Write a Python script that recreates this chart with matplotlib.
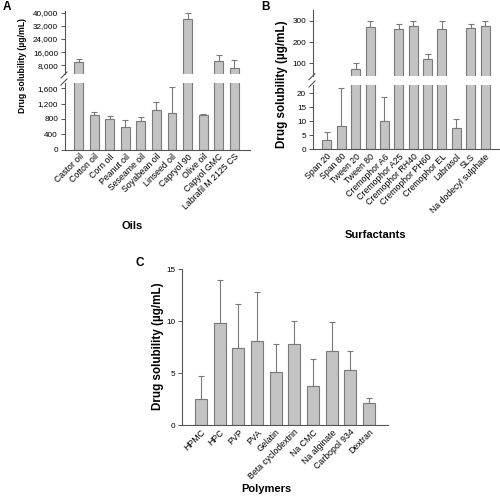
import numpy as np
import matplotlib
matplotlib.use("Agg")
from matplotlib import pyplot as plt
from matplotlib import font_manager
from matplotlib.ticker import StrMethodFormatter
from matplotlib.lines import Line2D

plt.rcParams['font.family'] = ['Liberation Sans', 'DejaVu Sans']
names_installed = {f.name for f in font_manager.fontManager.ttflist}
print(sorted(n for n in names_installed if 'Narrow' in n or 'Condensed' in n))

# panel A: oils
oils = ['Castor oil', 'Cotton oil', 'Corn oil', 'Peanut oil', 'Seseame oil',
        'Soyabean oil', 'Linseed oil', 'Capryol 90', 'Olive oil',
        'Capyol GMC', 'Labrafil M 2125 CS']
oil_mean = [9800, 890, 790, 590, 737, 1040, 962, 36000, 905, 10400, 6200]
oil_sd = [1800, 80, 78, 175, 105, 195, 664, 3600, 35, 3700, 4800]

# panel B: surfactants
surf = ['Span 20', 'Span 80', 'Tween 20', 'Tween 80', 'Cremophor A6',
        'Cremophor A25', 'Cremophor RH40', 'Cremophor PH60', 'Cremophor EL',
        'Labrasol', 'SLS', 'Na dodecyl sulphate']
surf_mean = [3.2, 8.4, 75, 273, 10, 263, 274, 119, 261, 7.7, 266, 274]
surf_sd = [3.0, 13.7, 25, 27, 8.8, 25, 28, 25, 40, 3.3, 20, 24]

# panel C: polymers
poly = ['HPMC', 'HPC', 'PVP', 'PVA', 'Gelatin', 'Beta cyclodextrin',
        'Na CMC', 'Na alginate', 'Carbopol 934', 'Dextran']
poly_mean = [2.49, 9.77, 7.42, 8.06, 5.06, 7.77, 3.74, 7.13, 5.29, 2.1]
poly_sd = [2.18, 4.13, 4.25, 4.71, 2.74, 2.26, 2.58, 2.73, 1.87, 0.48]

W, H = 500, 496
fig = plt.figure(figsize=(5, 4.96), dpi=100)

bar_fc = '#c3c3c3'
bar_ec = '#7a7a7a'
spc = '#555555'
tfs = 5.9


def px_axes(x0, x1, ytop, ybot):
    return fig.add_axes([x0 / W, 1 - ybot / H, (x1 - x0) / W, (ybot - ytop) / H])


def style(ax):
    for s in ['top', 'right']:
        ax.spines[s].set_visible(False)
    for s in ['left', 'bottom']:
        ax.spines[s].set_color(spc)
        ax.spines[s].set_linewidth(0.8)
    ax.tick_params(axis='y', labelsize=tfs, length=3, width=0.7, color=spc, pad=2)
    ax.tick_params(axis='x', length=0, labelsize=6.3, pad=2)


def draw_bars(ax, mean, sd, width):
    x = np.arange(len(mean))
    ax.bar(x, mean, width=width, color=bar_fc, edgecolor=bar_ec, linewidth=0.8, zorder=2)
    ax.errorbar(x, mean, yerr=[np.zeros(len(sd)), sd], fmt='none', ecolor='#7a7a7a',
                elinewidth=0.8, capsize=2.5, capthick=0.8, zorder=1)
    return x


def broken(x0, x1, up, low, width, mean, sd, names, ylim_up, ylim_low, ticks_up, ticks_low, fmt):
    ax_u = px_axes(x0, x1, up[0], up[1])
    ax_l = px_axes(x0, x1, low[0], low[1])
    for ax in (ax_u, ax_l):
        style(ax)
        draw_bars(ax, mean, sd, width)
    ax_u.spines['bottom'].set_visible(False)
    ax_u.set_xticks([])
    ax_u.set_ylim(*ylim_up)
    ax_l.set_ylim(*ylim_low)
    ax_u.set_yticks(ticks_up)
    ax_l.set_yticks(ticks_low)
    if fmt:
        ax_u.yaxis.set_major_formatter(StrMethodFormatter('{x:,.0f}'))
        ax_l.yaxis.set_major_formatter(StrMethodFormatter('{x:,.0f}'))
    ax_l.set_xticks(np.arange(len(names)))
    ax_l.set_xticklabels(names, rotation=45, ha='right', rotation_mode='anchor')
    # break marks
    for yy in (up[1] + 1, low[0] - 1):
        fig.add_artist(Line2D([(x0 - 4) / W, (x0 + 2) / W],
                              [1 - (yy + 3) / H, 1 - (yy - 3) / H],
                              color=spc, lw=0.8))
    return ax_u, ax_l


axA_u, axA_l = broken(65, 250, (11, 74), (83, 149.5), 0.58, oil_mean, oil_sd, oils,
                      (2707, 41034), (0, 1739),
                      [8000, 16000, 24000, 32000, 40000], [0, 400, 800, 1200, 1600], True)
axA_u.set_xlim(-0.9, 11.03)
axA_l.set_xlim(-0.9, 11.03)

axB_u, axB_l = broken(313, 499, (10, 75.7), (85, 149.3), 0.63, surf_mean, surf_sd, surf,
                      (41, 352), (0, 23),
                      [100, 200, 300], [0, 5, 10, 15, 20], False)
axB_u.set_xlim(-0.97, 11.97)
axB_l.set_xlim(-0.97, 11.97)

axC = px_axes(182, 388, 269, 425)
style(axC)
draw_bars(axC, poly_mean, poly_sd, 0.64)
axC.set_ylim(0, 15)
axC.set_yticks([0, 5, 10, 15])
axC.set_xlim(-1.02, 10.02)
axC.set_xticks(np.arange(len(poly)))
axC.set_xticklabels(poly, rotation=45, ha='right', rotation_mode='anchor')

ylab = 'Drug solubility (µg/mL)'
lab_kw = dict(fontweight='bold', rotation=90, ha='center', va='center')
if 'Liberation Sans Narrow' in names_installed:
    fig.text(23 / W, 1 - 66 / H, ylab, fontsize=7.3,
             family=['Liberation Sans Narrow', 'DejaVu Sans'], **lab_kw)
else:
    fig.text(23 / W, 1 - 66 / H, ylab, fontsize=6.2, **lab_kw)
fig.text(282 / W, 1 - 84 / H, ylab, fontsize=8.4, **lab_kw)
fig.text(158 / W, 1 - 346 / H, ylab, fontsize=8.4, **lab_kw)

xl_kw = dict(fontsize=8, fontweight='bold', ha='center', va='center')
fig.text(132 / W, 1 - 226 / H, 'Oils', **xl_kw)
fig.text(376 / W, 1 - 235 / H, 'Surfactants', **xl_kw)
fig.text(266 / W, 1 - 489 / H, 'Polymers', **xl_kw)

pl_kw = dict(fontsize=8.5, fontweight='bold', ha='left', va='center')
fig.text(3 / W, 1 - 7 / H, 'A', **pl_kw)
fig.text(261 / W, 1 - 7 / H, 'B', **pl_kw)
fig.text(136 / W, 1 - 263 / H, 'C', **pl_kw)

fig.savefig('out.png', dpi=100)
